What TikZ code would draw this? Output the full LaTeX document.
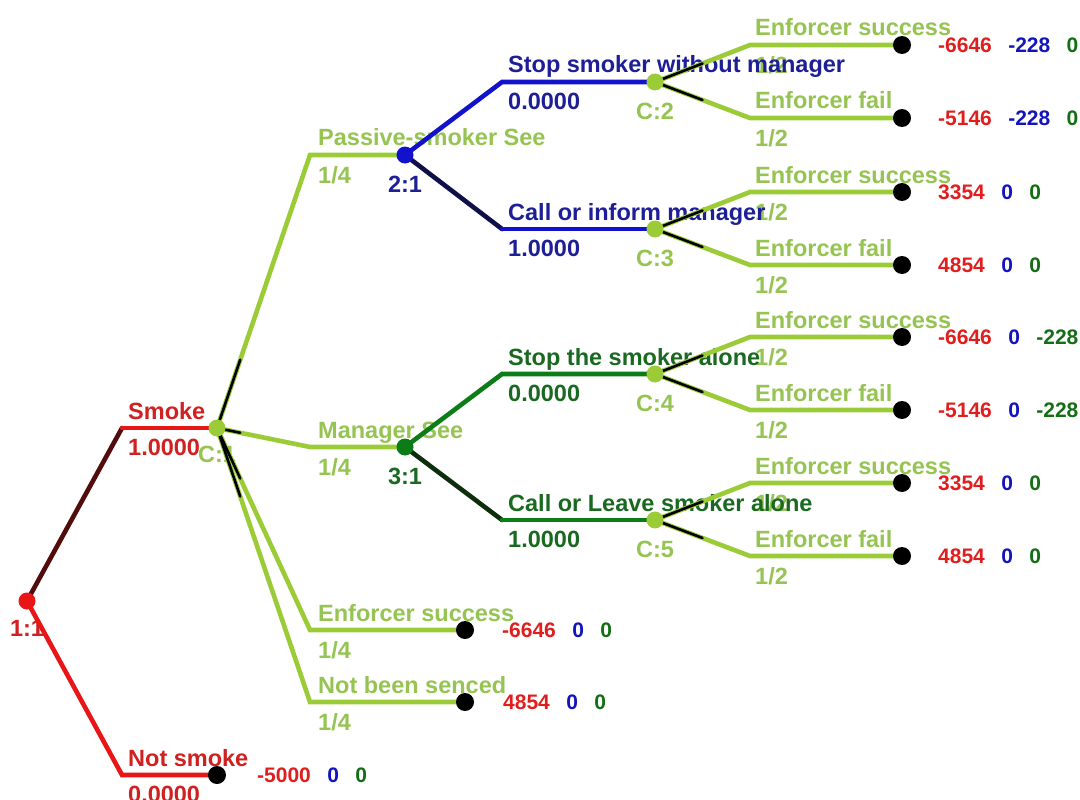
\documentclass[tikz,border=0pt]{standalone}
\usepackage{fontspec}
\setmainfont{Liberation Sans}
\usetikzlibrary{calc}
\pgfdeclarelayer{txt}
\pgfdeclarelayer{wire}
\pgfsetlayers{txt,wire,main}

% player colours
\definecolor{pAL}{RGB}{232,22,22}   % player 1 branches
\definecolor{pAT}{RGB}{208,32,32}   % player 1 text
\definecolor{pAD}{RGB}{82,12,12}    % player 1 chosen move
\definecolor{pBL}{RGB}{18,18,205}
\definecolor{pBT}{RGB}{30,30,150}
\definecolor{pBD}{RGB}{16,16,72}
\definecolor{pCL}{RGB}{12,125,22}
\definecolor{pCT}{RGB}{25,105,32}
\definecolor{pCD}{RGB}{12,46,12}
\definecolor{chL}{RGB}{155,204,55}  % chance branches
\definecolor{chT}{RGB}{150,196,82}
\definecolor{payR}{RGB}{225,30,30}
\definecolor{payB}{RGB}{20,20,190}
\definecolor{payG}{RGB}{20,110,20}

% three payoffs on one row, chained left to right
\newcommand\payline[5]{%
  \node[pay, text=payR] (#1a) at #2 {#3};
  \node[pay, text=payB] (#1b) at ([xshift=16pt]#1a.east) {#4};
  \node[pay, text=payG] (#1c) at ([xshift=16pt]#1b.east) {#5};}

\begin{document}
\begin{tikzpicture}[x=1pt,y=-1pt,
  lbl/.style={inner sep=0pt, font=\fontsize{23.5}{28}\selectfont\bfseries},
  abv/.style={lbl, anchor=base west},
  blw/.style={lbl, anchor=north west},
  tag/.style={lbl, anchor=north},
  pay/.style={inner sep=0pt, anchor=west, font=\fontsize{21}{25}\selectfont\bfseries},
  dot/.style={circle, inner sep=0pt, minimum size=17pt},
  tdot/.style={dot, fill=black, minimum size=18pt},
  br/.style={line width=4.6pt, line cap=round},
  tick/.style={line width=2.6pt, black, line cap=round},
]
\useasboundingbox (0,0) rectangle (1080,800);
\begin{pgfonlayer}{txt}
  \fill[white] (0,0) rectangle (1080,800);
\end{pgfonlayer}

% ---------- nodes of the tree ----------
\node[dot, fill=pAL] (n11) at (27,601) {};
\node[dot, fill=chL] (c1)  at (217,428) {};
\node[dot, fill=pBL] (n21) at (405,155) {};
\node[dot, fill=pCL] (n31) at (405,447) {};
\node[dot, fill=chL] (c2)  at (655,82) {};
\node[dot, fill=chL] (c3)  at (655,229) {};
\node[dot, fill=chL] (c4)  at (655,374) {};
\node[dot, fill=chL] (c5)  at (655,520) {};
\node[tdot] (t0)  at (217,775) {};
\node[tdot] (t9)  at (465,630) {};
\node[tdot] (t10) at (465,702) {};

% bends of the branches
\coordinate (kS)  at (122,428);
\coordinate (kN)  at (122,775);
\coordinate (kP)  at (310,155);
\coordinate (kM)  at (310,447);
\coordinate (kE)  at (310,630);
\coordinate (kB)  at (310,702);
\coordinate (k2u) at (502,82);
\coordinate (k2d) at (502,229);
\coordinate (k3u) at (502,374);
\coordinate (k3d) at (502,520);

% ---------- final chance moves ----------
\foreach \k/\y/\ua/\ub/\uc/\da/\db/\dc in {
    2/82/-6646/-228/0/-5146/-228/0,
    3/229/3354/0/0/4854/0/0,
    4/374/-6646/0/-228/-5146/0/-228,
    5/520/3354/0/0/4854/0/0}{
  \node[tdot] (tu\k) at (902,{\y-37}) {};
  \node[tdot] (td\k) at (902,{\y+36}) {};
  \coordinate (ku\k) at (750,{\y-37});
  \coordinate (kd\k) at (750,{\y+36});
  \begin{pgfonlayer}{txt}
    \node[abv, text=chT] (eu\k) at (755,{\y-46}) {Enforcer success};
    \node[blw, text=chT] (qu\k) at (755,{\y-26}) {1/2};
    \node[abv, text=chT] (ed\k) at (755,{\y+27}) {Enforcer fail};
    \node[blw, text=chT] (qd\k) at (755,{\y+47}) {1/2};
    \node[tag, text=chT] (lc\k) at (655,{\y+21}) {C:\k};
    \payline{pu\k}{(938,{\y-37})}{\ua}{\ub}{\uc}
    \payline{pd\k}{(938,{\y+36})}{\da}{\db}{\dc}
  \end{pgfonlayer}
  \begin{pgfonlayer}{wire}
    \draw[br, chL] (c\k.center) -- (ku\k) -- (tu\k.center);
    \draw[br, chL] (c\k.center) -- (kd\k) -- (td\k.center);
    \draw[tick] (c\k.center) -- ($(c\k.center)!0.5!(ku\k)$);
    \draw[tick] (c\k.center) -- ($(c\k.center)!0.5!(kd\k)$);
  \end{pgfonlayer}
}

% ---------- labels ----------
\begin{pgfonlayer}{txt}
  % player 1
  \node[tag, text=pAT] (l11) at (27,620) {1:1};
  \node[abv, text=pAT] (aS) at (128,419) {Smoke};
  \node[blw, text=pAT] (bS) at (128,439) {1.0000};
  \node[abv, text=pAT] (aN) at (128,766) {Not smoke};
  \node[blw, text=pAT] (bN) at (128,786) {0.0000};
  \payline{p0}{(257,775)}{-5000}{0}{0}
  % first chance move
  \node[tag, text=chT] (lc1) at (217,446) {C:1};
  \node[abv, text=chT] (aP) at (318,146) {Passive-smoker See};
  \node[blw, text=chT] (bP) at (318,166) {1/4};
  \node[abv, text=chT] (aM) at (318,438) {Manager See};
  \node[blw, text=chT] (bM) at (318,458) {1/4};
  \node[abv, text=chT] (aE) at (318,621) {Enforcer success};
  \node[blw, text=chT] (bE) at (318,641) {1/4};
  \node[abv, text=chT] (aB) at (318,693) {Not been senced};
  \node[blw, text=chT] (bB) at (318,713) {1/4};
  \payline{p9}{(502,630)}{-6646}{0}{0}
  \payline{p10}{(503,702)}{4854}{0}{0}
  % player 2
  \node[tag, text=pBT] (l21) at (405,176) {2:1};
  \node[abv, text=pBT] (a2u) at (508,73) {Stop smoker without manager};
  \node[blw, text=pBT] (b2u) at (508,93) {0.0000};
  \node[abv, text=pBT] (a2d) at (508,220) {Call or inform manager};
  \node[blw, text=pBT] (b2d) at (508,240) {1.0000};
  % player 3
  \node[tag, text=pCT] (l31) at (405,468) {3:1};
  \node[abv, text=pCT] (a3u) at (508,365) {Stop the smoker alone};
  \node[blw, text=pCT] (b3u) at (508,385) {0.0000};
  \node[abv, text=pCT] (a3d) at (508,511) {Call or Leave smoker alone};
  \node[blw, text=pCT] (b3d) at (508,531) {1.0000};
\end{pgfonlayer}

% ---------- branches ----------
\begin{pgfonlayer}{wire}
  % player 1
  \draw[br, pAD] (n11.center) -- (kS);
  \draw[br, pAL] (kS) -- (c1.center);
  \draw[br, pAL] (n11.center) -- (kN) -- (t0.center);
  % first chance move
  \draw[br, chL] (c1.center) -- (kP) -- (n21.center);
  \draw[br, chL] (c1.center) -- (kM) -- (n31.center);
  \draw[br, chL] (c1.center) -- (kE) -- (t9.center);
  \draw[br, chL] (c1.center) -- (kB) -- (t10.center);
  \foreach \q in {kP,kM,kE,kB}
    \draw[tick] (c1.center) -- ($(c1.center)!0.25!(\q)$);
  % player 2
  \draw[br, pBL] (n21.center) -- (k2u) -- (c2.center);
  \draw[br, pBD] (n21.center) -- (k2d);
  \draw[br, pBL] (k2d) -- (c3.center);
  % player 3
  \draw[br, pCL] (n31.center) -- (k3u) -- (c4.center);
  \draw[br, pCD] (n31.center) -- (k3d);
  \draw[br, pCL] (k3d) -- (c5.center);
\end{pgfonlayer}
\end{tikzpicture}
\end{document}
